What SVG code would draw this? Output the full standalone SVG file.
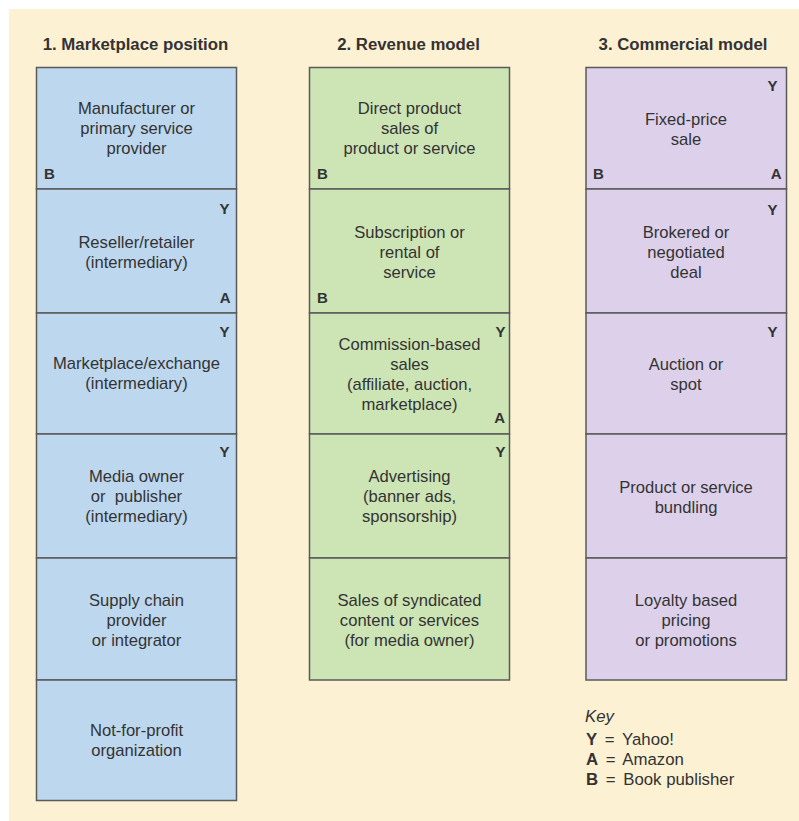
<svg xmlns="http://www.w3.org/2000/svg" width="799" height="821" viewBox="0 0 799 821">
<style>
.bg{fill:#fdf1d3}
.box{stroke:#5a5a5a;stroke-width:1.5}
.c1{fill:#bdd7ee}
.c2{fill:#cde4b5}
.c3{fill:#ddd0ea}
text{font-family:"Liberation Sans",Arial,sans-serif;fill:#333}
.h{font-size:16.8px;font-weight:bold;text-anchor:middle}
.t{font-size:16.6px;text-anchor:middle}
.l{font-size:15px;font-weight:bold}
.r{text-anchor:end}
.k{font-size:16.8px;word-spacing:3px}
.n{word-spacing:0}
</style>
<rect width="799" height="821" fill="#ffffff"/>
<rect class="bg" x="9" y="9" width="790" height="812"/>
<text class="h" x="135.5" y="50">1. Marketplace position</text>
<text class="h" x="408.5" y="50">2. Revenue model</text>
<text class="h" x="683" y="50">3. Commercial model</text>

<g id="mp1"><rect class="box c1" x="36.5" y="67.5" width="200" height="121.5"/>
<text class="t" x="136.5" y="114">Manufacturer or</text><text class="t" x="136.5" y="134">primary service</text><text class="t" x="136.5" y="154">provider</text>
<text class="l" x="44" y="179">B</text></g>
<g id="mp2"><rect class="box c1" x="36.5" y="189" width="200" height="124"/>
<text class="l r" x="229.5" y="214">Y</text>
<text class="t" x="136.5" y="248">Reseller/retailer</text><text class="t" x="136.5" y="268">(intermediary)</text>
<text class="l r" x="230.5" y="303">A</text></g>
<g id="mp3"><rect class="box c1" x="36.5" y="313" width="200" height="121"/>
<text class="l r" x="229.5" y="337">Y</text>
<text class="t" x="136.5" y="369">Marketplace/exchange</text><text class="t" x="136.5" y="389">(intermediary)</text></g>
<g id="mp4"><rect class="box c1" x="36.5" y="434" width="200" height="124"/>
<text class="l r" x="229.5" y="457">Y</text>
<text class="t" x="136.5" y="482">Media owner</text><text class="t" x="136.5" y="502" xml:space="preserve">or  publisher</text><text class="t" x="136.5" y="522">(intermediary)</text></g>
<g id="mp5"><rect class="box c1" x="36.5" y="558" width="200" height="122"/>
<text class="t" x="136.5" y="606">Supply chain</text><text class="t" x="136.5" y="626">provider</text><text class="t" x="136.5" y="646">or integrator</text></g>
<g id="mp6"><rect class="box c1" x="36.5" y="680" width="200" height="120.5"/>
<text class="t" x="136.5" y="736">Not-for-profit</text><text class="t" x="136.5" y="756">organization</text></g>

<g id="rm1"><rect class="box c2" x="309.5" y="67.5" width="200" height="121.5"/>
<text class="t" x="409.5" y="114">Direct product</text><text class="t" x="409.5" y="134">sales of</text><text class="t" x="409.5" y="154">product or service</text>
<text class="l" x="317" y="179">B</text></g>
<g id="rm2"><rect class="box c2" x="309.5" y="189" width="200" height="124"/>
<text class="t" x="409.5" y="238">Subscription or</text><text class="t" x="409.5" y="258">rental of</text><text class="t" x="409.5" y="278">service</text>
<text class="l" x="317" y="303">B</text></g>
<g id="rm3"><rect class="box c2" x="309.5" y="313" width="200" height="121"/>
<text class="l r" x="505.5" y="337">Y</text>
<text class="t" x="409.5" y="350">Commission-based</text><text class="t" x="409.5" y="370">sales</text><text class="t" x="409.5" y="390">(affiliate, auction,</text><text class="t" x="409.5" y="410">marketplace)</text>
<text class="l r" x="505" y="423">A</text></g>
<g id="rm4"><rect class="box c2" x="309.5" y="434" width="200" height="124"/>
<text class="l r" x="505.5" y="457">Y</text>
<text class="t" x="409.5" y="482">Advertising</text><text class="t" x="409.5" y="502">(banner ads,</text><text class="t" x="409.5" y="522">sponsorship)</text></g>
<g id="rm5"><rect class="box c2" x="309.5" y="558" width="200" height="122"/>
<text class="t" x="409.5" y="606">Sales of syndicated</text><text class="t" x="409.5" y="626">content or services</text><text class="t" x="409.5" y="646">(for media owner)</text></g>

<g id="cm1"><rect class="box c3" x="586" y="67.5" width="200.5" height="121.5"/>
<text class="l r" x="777.5" y="91">Y</text>
<text class="t" x="686" y="125">Fixed-price</text><text class="t" x="686" y="145">sale</text>
<text class="l" x="593" y="179">B</text><text class="l r" x="781.5" y="179">A</text></g>
<g id="cm2"><rect class="box c3" x="586" y="189" width="200.5" height="124"/>
<text class="l r" x="777.5" y="215">Y</text>
<text class="t" x="686" y="238">Brokered or</text><text class="t" x="686" y="258">negotiated</text><text class="t" x="686" y="278">deal</text></g>
<g id="cm3"><rect class="box c3" x="586" y="313" width="200.5" height="121"/>
<text class="l r" x="777.5" y="337">Y</text>
<text class="t" x="686" y="370">Auction or</text><text class="t" x="686" y="390">spot</text></g>
<g id="cm4"><rect class="box c3" x="586" y="434" width="200.5" height="124"/>
<text class="t" x="686" y="493">Product or service</text><text class="t" x="686" y="513">bundling</text></g>
<g id="cm5"><rect class="box c3" x="586" y="558" width="200.5" height="122"/>
<text class="t" x="686" y="606">Loyalty based</text><text class="t" x="686" y="626">pricing</text><text class="t" x="686" y="646">or promotions</text></g>

<g id="key">
<text class="k" x="585" y="722" font-style="italic">Key</text>
<text class="k" x="586" y="745"><tspan font-weight="bold">Y</tspan> = Yahoo!</text>
<text class="k" x="586" y="765"><tspan font-weight="bold">A</tspan> = Amazon</text>
<text class="k" x="586" y="785"><tspan font-weight="bold">B</tspan> = <tspan class="n">Book publisher</tspan></text>
</g>
<g id="connectors"></g>
</svg>
